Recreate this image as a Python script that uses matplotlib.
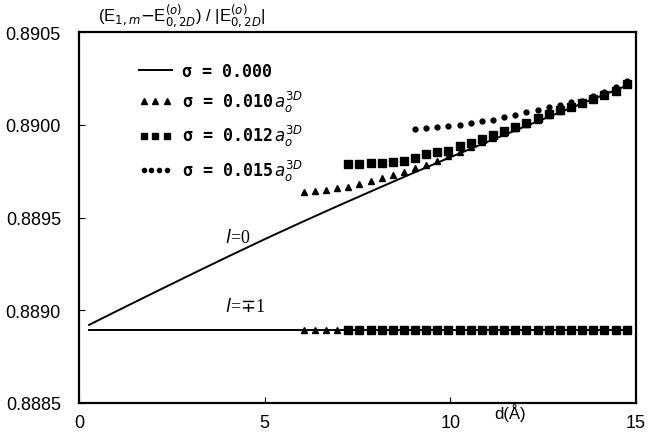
import matplotlib
matplotlib.use("Agg")
import matplotlib.pyplot as plt
from matplotlib.lines import Line2D
from matplotlib.legend_handler import HandlerLine2D

# l = 0 curve, sigma = 0
d_line = [0.27, 1, 2, 3, 4, 5, 6, 7, 8, 9, 10, 11, 12, 13, 14, 14.75]
e_line = [0.888921, 0.888994, 0.889093, 0.889191, 0.889288, 0.889383, 0.889475,
          0.889565, 0.889653, 0.889740, 0.889825, 0.889908, 0.889990, 0.890071,
          0.890151, 0.890211]

# l = -+1 curve, sigma = 0
d_flat = [0.27, 14.75]
e_flat = [0.888895, 0.888895]

# sigma = 0.010 (triangles)
d_tri = [6.05, 6.35, 6.65, 6.95, 7.25, 7.55, 7.85, 8.15, 8.45, 8.75, 9.05, 9.35,
         9.65, 9.95, 10.25, 10.55, 10.85, 11.15, 11.45, 11.75, 12.05, 12.35,
         12.65, 12.95, 13.25, 13.55, 13.85, 14.15, 14.45, 14.75]
e_tri = [0.889639, 0.889641, 0.889648, 0.889657, 0.889666, 0.889681, 0.889698,
         0.889711, 0.889729, 0.889747, 0.889765, 0.889785, 0.889805, 0.889830,
         0.889855, 0.889880, 0.889905, 0.889930, 0.889955, 0.889980, 0.890004,
         0.890028, 0.890052, 0.890076, 0.890100, 0.890124, 0.890148, 0.890172,
         0.890196, 0.890220]
e_tri_flat = [0.888895] * 30

# sigma = 0.012 (squares)
d_sq = [7.25, 7.55, 7.85, 8.15, 8.45, 8.75, 9.05, 9.35, 9.65, 9.95, 10.25, 10.55,
        10.85, 11.15, 11.45, 11.75, 12.05, 12.35, 12.65, 12.95, 13.25, 13.55,
        13.85, 14.15, 14.45, 14.75]
e_sq = [0.889788, 0.889788, 0.889792, 0.889792, 0.889798, 0.889806, 0.889821,
        0.889842, 0.889851, 0.889860, 0.889884, 0.889902, 0.889924, 0.889946,
        0.889968, 0.889990, 0.890012, 0.890034, 0.890056, 0.890077, 0.890098,
        0.890119, 0.890140, 0.890161, 0.890183, 0.890220]
e_sq_flat = [0.888895] * 26

# sigma = 0.015 (circles)
d_dot = [9.05, 9.35, 9.65, 9.95, 10.25, 10.55, 10.85, 11.15, 11.45, 11.75, 12.05,
         12.35, 12.65, 12.95, 13.25, 13.55, 13.85, 14.15, 14.45, 14.75]
e_dot = [0.889977, 0.889981, 0.889986, 0.889992, 0.889999, 0.890008, 0.890019,
         0.890027, 0.890040, 0.890053, 0.890067, 0.890080, 0.890094, 0.890106,
         0.890121, 0.890130, 0.890155, 0.890177, 0.890204, 0.890236]

xticks = [0, 5, 10, 15]
yticks = [0.8885, 0.8890, 0.8895, 0.8900, 0.8905]
ytick_labels = ["0.8885", "0.8890", "0.8895", "0.8900", "0.8905"]

plt.rcParams['font.family'] = ['Liberation Sans', 'DejaVu Sans']

fig = plt.figure(figsize=(6.59, 4.35), dpi=100)
ax = fig.add_axes([0.1199, 0.0713, 0.8452, 0.8528])

ax.plot(d_line, e_line, color='black', lw=1.4)
ax.plot(d_flat, e_flat, color='black', lw=1.4)
ax.plot(d_tri, e_tri, '^', color='black', ms=5, ls='none')
ax.plot(d_tri, e_tri_flat, '^', color='black', ms=5, ls='none')
ax.plot(d_sq, e_sq, 's', color='black', ms=6, ls='none')
ax.plot(d_sq, e_sq_flat, 's', color='black', ms=6, ls='none')
ax.plot(d_dot, e_dot, 'o', color='black', ms=3.5, ls='none')

ax.set_xlim(0, 15)
ax.set_ylim(0.8885, 0.8905)
ax.set_xticks(xticks)
ax.set_yticks(yticks)
ax.set_yticklabels(ytick_labels)
ax.tick_params(direction='in', length=4, width=0.8, labelsize=13)
ax.tick_params(axis='y', pad=13)
ax.tick_params(axis='x', pad=8)
for s in ax.spines.values():
    s.set_linewidth(1.6)

ax.text(11.6, 0.88845, "d(Å)", fontsize=12, ha='center', va='center')
ax.text(0.5, 0.89059, r"(E$_{1,m}$$-$E$^{(o)}_{0,2D}$) / |E$^{(o)}_{0,2D}$|",
        fontsize=12, ha='left', va='center', clip_on=False)

ax.text(4.28, 0.889395, r"$l$=0", fontsize=13, ha='center', va='center',
        family=['Liberation Serif', 'DejaVu Serif'])
ax.text(4.47, 0.889023, r"$l$=$\mp$1", fontsize=13, ha='center', va='center',
        family=['Liberation Serif', 'DejaVu Serif'])

h0 = Line2D([], [], color='black', lw=1.4)
h1 = Line2D([], [], marker='^', color='black', ms=5, ls='none')
h2 = Line2D([], [], marker='s', color='black', ms=5, ls='none')
h3 = Line2D([], [], marker='o', color='black', ms=3, ls='none')
labels = ["σ = 0.000",
          r"σ = 0.010$\,a_o^{3D}$",
          r"σ = 0.012$\,a_o^{3D}$",
          r"σ = 0.015$\,a_o^{3D}$"]
leg = ax.legend([h0, h1, h2, h3], labels, loc='upper left',
                bbox_to_anchor=(0.08, 0.96), frameon=False,
                handlelength=2.0, handletextpad=0.6, labelspacing=0.55,
                handler_map={h1: HandlerLine2D(numpoints=3),
                             h2: HandlerLine2D(numpoints=3),
                             h3: HandlerLine2D(numpoints=4)},
                prop={'family': 'DejaVu Sans Mono', 'weight': 'bold', 'size': 12})

fig.savefig("out.png", dpi=100)
